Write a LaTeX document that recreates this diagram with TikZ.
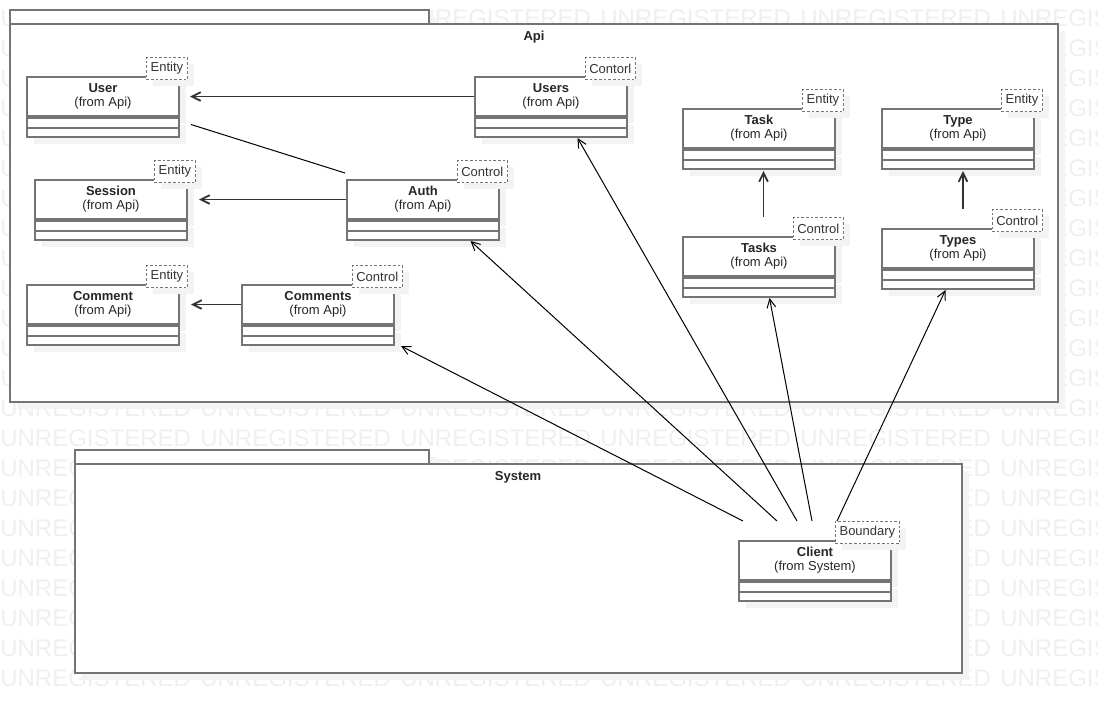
\documentclass[tikz,border=0pt]{standalone}
\usepackage{fontspec}
\setmainfont{Liberation Sans}
\usetikzlibrary{positioning,shadows,arrows.meta}
\definecolor{boxgray}{HTML}{747474}
\definecolor{wmgray}{HTML}{EFEFEF}
\definecolor{shadowgray}{HTML}{F3F3F3}
\definecolor{linegray}{HTML}{333333}
\begin{document}
\begin{tikzpicture}[x=0.75pt, y=-0.75pt,
    shade box/.style={drop shadow={shadow xshift=5pt, shadow yshift=-5pt, fill=shadowgray, opacity=1}},
    watermark/.style={text=wmgray, inner sep=0pt, anchor=west, font=\fontsize{18}{19}\selectfont},
    pkg/.style={draw=boxgray, line width=1.5pt, fill=white, shade box},
    pkgname/.style={font=\fontsize{9.75}{10.5}\selectfont\bfseries, text=black!85},
    cls/.style={draw=boxgray, line width=1.5pt, fill=white, minimum width=114pt, minimum height=29.25pt,
        inner sep=0pt, align=center, anchor=north west, font=\fontsize{9.75}{10.5}\selectfont, text=black!85, shade box},
    clsops/.style={draw=boxgray, line width=1.5pt, fill=white, minimum width=114pt, minimum height=14.25pt,
        inner sep=0pt, shade box,
        path picture={\draw[boxgray, line width=1.5pt] (path picture bounding box.west) -- (path picture bounding box.east);}},
    stereo/.style={draw=boxgray, line width=0.75pt, dash pattern=on 2pt off 1.5pt, fill=white, inner xsep=3.2pt,
        inner ysep=0pt, minimum height=16.5pt, anchor=south east, font=\fontsize{9.75}{10.5}\selectfont, text=black!80, shade box},
    assoc/.style={draw=linegray, line width=1.4pt, -{Straight Barb[length=6.5pt, width=6.5pt]}},
    call/.style={draw=black, line width=0.75pt, -{Straight Barb[length=6.5pt, width=6.5pt]}},
    link/.style={draw=black, line width=0.75pt}]
    \useasboundingbox (0,0) rectangle (1098,714);

    % Watermark rows
    \begin{scope}
        \clip (0,0) rectangle (1098,714);
        \foreach \row in {0,...,22}
            \foreach \col in {0,...,5}
                \node[watermark] (wm-\row-\col) at (200*\col, 18+30*\row) {UNREGISTERED};
    \end{scope}

    % Package Api
    \draw[pkg] (10,10) rectangle (429,24);
    \draw[pkg] (10,24) rectangle (1058,402);
    \node[pkgname] (api-name) at (534,37) {Api};

    % Package System
    \draw[pkg] (75,450) rectangle (429,464);
    \draw[pkg] (75,464) rectangle (962,673);
    \node[pkgname] (system-name) at (518,477) {System};

    % Classes in Api
    \node[cls] (user) at (26,76) {\textbf{User}\\(from Api)};
    \node[clsops, below=0pt of user] (user-ops) {};
    \node[stereo] (user-tag) at ([shift={(8,4)}]user.north east) {Entity};

    \node[cls] (users) at (474,76) {\textbf{Users}\\(from Api)};
    \node[clsops, below=0pt of users] (users-ops) {};
    \node[stereo] (users-tag) at ([shift={(8,4)}]users.north east) {Contorl};

    \node[cls] (session) at (34,179) {\textbf{Session}\\(from Api)};
    \node[clsops, below=0pt of session] (session-ops) {};
    \node[stereo] (session-tag) at ([shift={(8,4)}]session.north east) {Entity};

    \node[cls] (auth) at (346,179) {\textbf{Auth}\\(from Api)};
    \node[clsops, below=0pt of auth] (auth-ops) {};
    \node[stereo] (auth-tag) at ([shift={(8,4)}]auth.north east) {Control};

    \node[cls] (comment) at (26,284) {\textbf{Comment}\\(from Api)};
    \node[clsops, below=0pt of comment] (comment-ops) {};
    \node[stereo] (comment-tag) at ([shift={(8,4)}]comment.north east) {Entity};

    \node[cls] (comments) at (241,284) {\textbf{Comments}\\(from Api)};
    \node[clsops, below=0pt of comments] (comments-ops) {};
    \node[stereo] (comments-tag) at ([shift={(8,4)}]comments.north east) {Control};

    \node[cls] (task) at (682,108) {\textbf{Task}\\(from Api)};
    \node[clsops, below=0pt of task] (task-ops) {};
    \node[stereo] (task-tag) at ([shift={(8,4)}]task.north east) {Entity};

    \node[cls] (type) at (881,108) {\textbf{Type}\\(from Api)};
    \node[clsops, below=0pt of type] (type-ops) {};
    \node[stereo] (type-tag) at ([shift={(8,4)}]type.north east) {Entity};

    \node[cls] (tasks) at (682,236) {\textbf{Tasks}\\(from Api)};
    \node[clsops, below=0pt of tasks] (tasks-ops) {};
    \node[stereo] (tasks-tag) at ([shift={(8,4)}]tasks.north east) {Control};

    \node[cls] (types) at (881,228) {\textbf{Types}\\(from Api)};
    \node[clsops, below=0pt of types] (types-ops) {};
    \node[stereo] (types-tag) at ([shift={(8,4)}]types.north east) {Control};

    % Class in System
    \node[cls] (client) at (738,540) {\textbf{Client}\\(from System)};
    \node[clsops, below=0pt of client] (client-ops) {};
    \node[stereo] (client-tag) at ([shift={(8,4)}]client.north east) {Boundary};

    % Links inside Api
    \draw[assoc, shorten >=7.5pt] (users.west) -- (user.east);
    \draw[link] ([shift={(11,-3)}]user-ops.east) -- ([shift={(-1,-6)}]auth.north west);
    \draw[assoc, shorten >=8.25pt] (auth.west) -- (session.east);
    \draw[assoc, shorten >=8.25pt] (comments.west) -- (comment.east);
    \draw[assoc] ([shift={(4.5,-19)}]tasks.north) -- ([shift={(4.5,1)}]task-ops.south);
    \draw[assoc] ([shift={(5,-19)}]types.north) -- ([shift={(5,1)}]type-ops.south);

    % Links from Client
    \draw[call] ([shift={(5,-19)}]client.north west) -- ([shift={(6,0)}]comments-ops.south east);
    \draw[call] ([shift={(39,-19)}]client.north west) -- ([shift={(47.5,0)}]auth-ops.south);
    \draw[call] ([shift={(59,-19)}]client.north west) -- ([shift={(26.5,0)}]users-ops.south);
    \draw[call] ([shift={(74,-19)}]client.north west) -- ([shift={(10.5,0)}]tasks-ops.south);
    \draw[call] ([shift={(99,-19)}]client.north west) -- ([shift={(-12.5,0)}]types-ops.south);
\end{tikzpicture}
\end{document}
